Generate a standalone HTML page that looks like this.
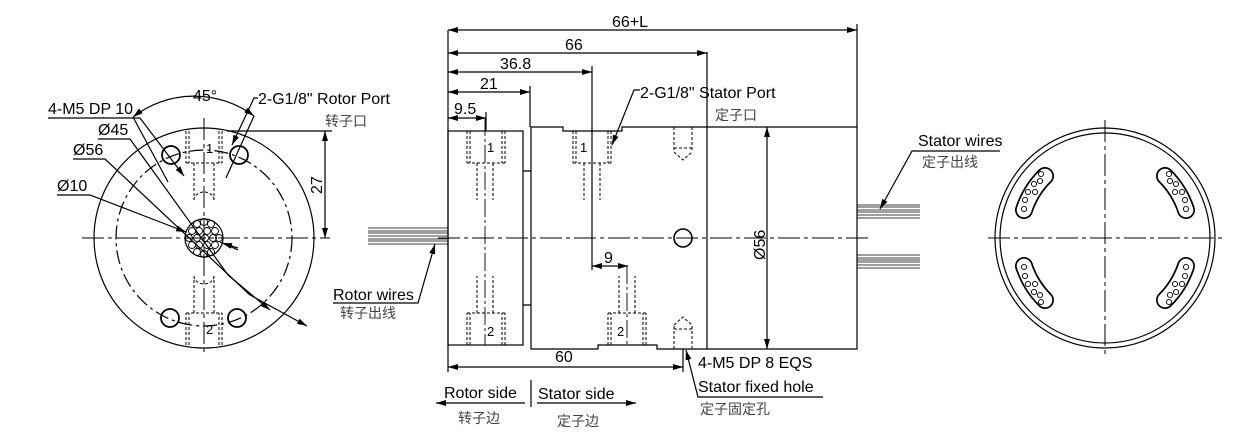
<!DOCTYPE html>
<html><head><meta charset="utf-8"><style>
html,body{margin:0;padding:0;background:#fff;}
svg{display:block;}
text{font-family:"Liberation Sans","Noto Sans CJK SC",sans-serif;font-size:16px;fill:#000;}
.cn{font-size:14px;fill:#444;}
.s{font-size:13px;}
</style></head><body>
<svg width="1253" height="446" viewBox="0 0 1253 446" xmlns="http://www.w3.org/2000/svg">
<defs>
<marker id="a" viewBox="0 0 10 6" refX="10" refY="3" markerWidth="10" markerHeight="6" orient="auto-start-reverse" markerUnits="userSpaceOnUse"><path d="M0,0L10,3L0,6z" fill="#000"/></marker>
</defs>
<g fill="none" stroke="#000" stroke-width="1.2">
<!-- LEFT VIEW -->
<circle cx="204" cy="238" r="110"/>
<circle cx="204" cy="238" r="88" stroke-dasharray="14,4,3,4"/>
<line x1="82" y1="238" x2="330" y2="238" stroke-dasharray="22,4,4,4" stroke-width="1"/>
<line x1="204" y1="118" x2="204" y2="356" stroke-dasharray="22,4,4,4" stroke-width="1"/>
<circle cx="204" cy="238" r="19"/>
<g stroke-width="0.9">
<circle cx="197" cy="224" r="3.5"/><circle cx="204" cy="222" r="3.5"/><circle cx="211" cy="224" r="3.5"/>
<circle cx="192" cy="231" r="3.5"/><circle cx="199" cy="231" r="3.5"/><circle cx="207" cy="231" r="3.5"/><circle cx="215" cy="231" r="3.5"/>
<circle cx="189" cy="238" r="3.5"/><circle cx="197" cy="238" r="3.5"/><circle cx="205" cy="238" r="3.5"/><circle cx="213" cy="238" r="3.5"/><circle cx="219" cy="238" r="3.5"/>
<circle cx="192" cy="245" r="3.5"/><circle cx="199" cy="245" r="3.5"/><circle cx="207" cy="245" r="3.5"/><circle cx="215" cy="245" r="3.5"/>
<circle cx="197" cy="252" r="3.5"/><circle cx="204" cy="254" r="3.5"/><circle cx="211" cy="252" r="3.5"/>
</g>
<circle cx="171" cy="155" r="9" stroke-width="1.8"/><circle cx="239" cy="155" r="9" stroke-width="1.8"/>
<circle cx="170" cy="318" r="9" stroke-width="1.8"/><circle cx="237" cy="318" r="9" stroke-width="1.8"/>
<g stroke-dasharray="3,2" stroke-width="1">
<path d="M186,131V163M189,131V163M219,131V163M222,131V163M186,163H222M194,163V200M214,163V200"/>
<path d="M186,345V313M189,345V313M219,345V313M222,345V313M186,313H222M194,313V276M214,313V276"/>
<path d="M194,200a10,8 0 0 1 20,0"/><path d="M194,276a10,8 0 0 0 20,0"/>
</g>
<!-- 27 dim -->
<line x1="227" y1="131" x2="332" y2="131"/>
<line x1="325" y1="131" x2="325" y2="238" marker-start="url(#a)" marker-end="url(#a)"/>
<!-- 45 arc -->
<path d="M133,117 A100,100 0 0 1 254,116" marker-start="url(#a)" marker-end="url(#a)"/>
<line x1="133" y1="117" x2="168" y2="182"/><line x1="254" y1="116" x2="226" y2="178"/>
<!-- port leader -->
<path d="M258,98H254L232,145" marker-end="url(#a)"/>
<!-- leaders -->
<path d="M48,118H140L184,176" marker-end="url(#a)"/>
<path d="M98,139H130L228,275"/><line x1="228" y1="275" x2="270" y2="310" marker-end="url(#a)"/>
<path d="M73,159H105L250,295"/><line x1="250" y1="295" x2="307" y2="326" marker-end="url(#a)"/>
<path d="M57,195H90L186,232" marker-end="url(#a)"/>
<line x1="238" y1="248" x2="222" y2="243" marker-end="url(#a)"/>
<line x1="220" y1="242" x2="238" y2="250"/>

<!-- MIDDLE VIEW -->
<rect x="448" y="131" width="75" height="214"/>
<path d="M523,171H531M523,305H531"/>
<path d="M531,127H563V131H622V127H857V349H657V345H598V349H531Z"/>
<line x1="707" y1="127" x2="707" y2="349"/>
<circle cx="683" cy="238" r="9" stroke-width="1.6"/>
<line x1="438" y1="238" x2="870" y2="238" stroke-dasharray="22,4,4,4" stroke-width="1"/>
<g stroke-dasharray="3,2" stroke-width="1">
<path d="M467,131V163M470,131V163M502,131V163M505,131V163M467,163H505M477,163V200M493,163V200"/>
<path d="M467,345V313M470,345V313M502,345V313M505,345V313M467,313H505M477,313V276M493,313V276"/>
<path d="M573,131V163M576,131V163M608,131V163M611,131V163M573,163H611M584,163V200M600,163V200"/>
<path d="M608,345V313M611,345V313M643,345V313M646,345V313M608,313H646M619,313V276M635,313V276"/>
<path d="M674,127V152M692,127V152M674,152L683,160L692,152M674,148H692"/>
<path d="M674,349V325M692,349V325M674,325L683,317L692,325M674,329H692"/>
</g>
<path d="M485,118V345M627,266V345" stroke-dasharray="18,3,3,3" stroke-width="0.9"/>
<!-- rotor wires -->
<path d="M368,228H448M368,231H448M368,233H448M368,236H448M368,239H448M368,241H448M368,244H448" stroke-width="0.8"/>
<path d="M333,303H418L435,244" marker-end="url(#a)"/>
<!-- stator wires -->
<path d="M857,205H920M857,207H920M857,210H920M857,212H920M857,215H920M857,218H920" stroke-width="0.8"/>
<path d="M857,255H920M857,258H920M857,260H920M857,262H920M857,265H920M857,268H920" stroke-width="0.8"/>
<path d="M1000,151H912L880,209" marker-end="url(#a)"/>
<!-- dims -->
<line x1="448" y1="30" x2="448" y2="372"/>
<line x1="857" y1="24" x2="857" y2="127"/>
<line x1="707" y1="52" x2="707" y2="127"/>
<line x1="592" y1="66" x2="592" y2="270"/>
<line x1="530" y1="86" x2="530" y2="127"/>
<line x1="486" y1="112" x2="486" y2="131"/>
<line x1="448" y1="30" x2="857" y2="30" marker-start="url(#a)" marker-end="url(#a)"/>
<line x1="448" y1="53" x2="707" y2="53" marker-start="url(#a)" marker-end="url(#a)"/>
<line x1="448" y1="72" x2="592" y2="72" marker-start="url(#a)" marker-end="url(#a)"/>
<line x1="448" y1="92" x2="530" y2="92" marker-start="url(#a)" marker-end="url(#a)"/>
<line x1="448" y1="118" x2="486" y2="118" marker-start="url(#a)" marker-end="url(#a)"/>
<line x1="592" y1="266" x2="628" y2="266" marker-start="url(#a)" marker-end="url(#a)"/>
<line x1="683" y1="349" x2="683" y2="372"/>
<line x1="448" y1="367" x2="683" y2="367" marker-start="url(#a)" marker-end="url(#a)"/>
<line x1="767" y1="127" x2="767" y2="349" marker-start="url(#a)" marker-end="url(#a)"/>
<path d="M640,90H634L612,145" marker-end="url(#a)"/>
<path d="M823,397H698L686,350" marker-end="url(#a)"/>
<!-- bottom -->
<line x1="531" y1="380" x2="531" y2="407"/>
<line x1="525" y1="403" x2="436" y2="403" marker-end="url(#a)"/>
<line x1="537" y1="403" x2="636" y2="403" marker-end="url(#a)"/>

<!-- RIGHT VIEW -->
<circle cx="1105" cy="238" r="110"/>
<circle cx="1105" cy="238" r="105"/>
<line x1="988" y1="238" x2="1222" y2="238" stroke-dasharray="22,4,4,4" stroke-width="1"/>
<line x1="1105" y1="120" x2="1105" y2="356" stroke-dasharray="22,4,4,4" stroke-width="1"/>
<g id="slot">
<path d="M1024,210 A86,86 0 0 1 1045,176" stroke-width="18" stroke-linecap="round"/>
<path d="M1024,210 A86,86 0 0 1 1045,176" stroke="#fff" stroke-width="14.6" stroke-linecap="round"/>
<g stroke-width="0.9"><circle cx="1024" cy="209" r="2.6"/><circle cx="1025" cy="200" r="2.6"/><circle cx="1028" cy="192" r="2.6"/><circle cx="1035" cy="192" r="2.6"/><circle cx="1034" cy="184" r="2.6"/><circle cx="1040" cy="181" r="2.6"/><circle cx="1041" cy="174" r="2.6"/></g>
</g>
<use href="#slot" transform="translate(2210,0) scale(-1,1)"/>
<use href="#slot" transform="translate(0,476) scale(1,-1)"/>
<use href="#slot" transform="translate(2210,476) scale(-1,-1)"/>
</g>

<!-- TEXT -->
<text x="48" y="114">4-M5 DP 10</text>
<text x="98" y="135">Ø45</text>
<text x="73" y="155">Ø56</text>
<text x="57" y="191">Ø10</text>
<text x="193" y="101">45°</text>
<text x="258" y="104">2-G1/8"  Rotor Port</text>
<text x="325" y="126" class="cn">转子口</text>
<text transform="translate(322,194) rotate(-90)">27</text>
<text x="333" y="300">Rotor wires</text>
<text x="340" y="318" class="cn">转子出线</text>
<text x="612" y="27">66+L</text>
<text x="565" y="50">66</text>
<text x="500" y="69">36.8</text>
<text x="480" y="89">21</text>
<text x="454" y="114">9.5</text>
<text x="640" y="98">2-G1/8"  Stator Port</text>
<text x="715" y="120" class="cn">定子口</text>
<text x="604" y="263">9</text>
<text x="555" y="362">60</text>
<text transform="translate(765,260) rotate(-90)">Ø56</text>
<text x="698" y="368">4-M5 DP 8 EQS</text>
<text x="698" y="392">Stator fixed hole</text>
<text x="700" y="414" class="cn">定子固定孔</text>
<text x="444" y="398">Rotor side</text>
<text x="538" y="399">Stator side</text>
<text x="458" y="423" class="cn">转子边</text>
<text x="557" y="426" class="cn">定子边</text>
<text x="918" y="146">Stator wires</text>
<text x="922" y="167" class="cn">定子出线</text>
<text x="206" y="153" class="s">1</text>
<text x="206" y="334" class="s">2</text>
<text x="487" y="152" class="s">1</text>
<text x="487" y="336" class="s">2</text>
<text x="580" y="152" class="s">1</text>
<text x="617" y="336" class="s">2</text>
</svg>
</body></html>
